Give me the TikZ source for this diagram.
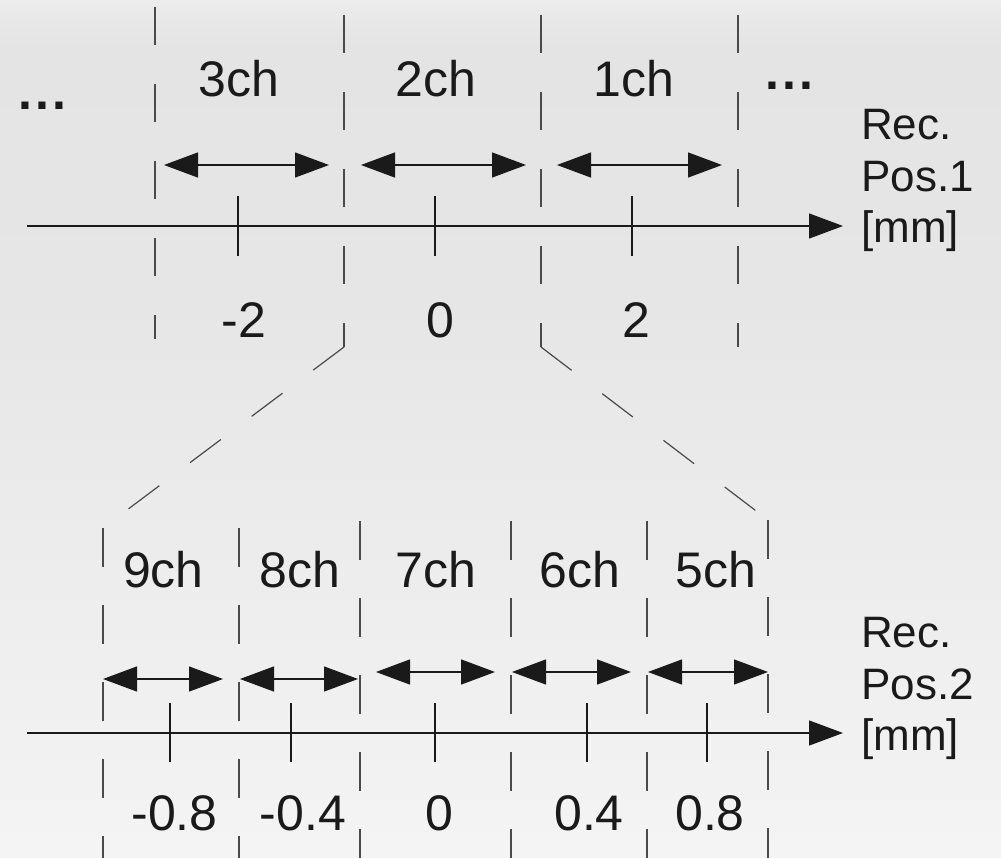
\documentclass[tikz,border=0pt]{standalone}
\usepackage{fontspec}
\setmainfont{Liberation Sans}
\usetikzlibrary{arrows.meta}
\definecolor{bgA}{HTML}{ECECEC}
\definecolor{bgB}{HTML}{E4E4E4}
\definecolor{bgC}{HTML}{E6E6E6}
\definecolor{bgD}{HTML}{F4F4F4}
\definecolor{ink}{HTML}{1A1A1A}
\definecolor{guidecol}{HTML}{4A4A4A}
\tikzset{
  chlabel/.style={font=\fontsize{50}{60}\selectfont, anchor=base, inner sep=0pt, text=ink},
  axlabel/.style={font=\fontsize{44}{51.5}\selectfont, anchor=base west, inner sep=0pt, text=ink},
  dots/.style={font=\bfseries\fontsize{50}{60}\selectfont\addfontfeature{LetterSpace=6}, anchor=base west, inner sep=0pt, text=ink},
  guide/.style={draw=guidecol, line width=1.2pt, dash pattern=on 38.5pt off 38.5pt},
  bigtip/.tip={Triangle[length=34pt,width=25pt]},
  axisline/.style={draw=ink, line width=1.3pt, -bigtip},
  span/.style={draw=ink, line width=1.3pt, bigtip-bigtip},
  tickmark/.style={draw=ink, line width=1.2pt},
}
\begin{document}
\begin{tikzpicture}[x=1pt,y=-1pt]
\useasboundingbox (0,0) rectangle (1001,858);
% background
\shade[top color=bgA, bottom color=bgB] (0,0) rectangle (1001,45);
\shade[top color=bgB, bottom color=bgC] (0,45) rectangle (1001,300);
\shade[top color=bgC, bottom color=bgD] (0,300) rectangle (1001,858);

% ---------- top scale ----------
\coordinate (g0t) at (155,7);   \coordinate (g0b) at (155,339);
\coordinate (g1t) at (344,15);  \coordinate (g1b) at (344,347);
\coordinate (g2t) at (541,15);  \coordinate (g2b) at (541,347);
\coordinate (g3t) at (738,15);  \coordinate (g3b) at (738,347);
\draw[guide] (g0t) -- (g0b);
\draw[guide] (g1t) -- (g1b);
\draw[guide] (g2t) -- (g2b);
\draw[guide] (g3t) -- (g3b);

\coordinate (ax1s) at (27,226); \coordinate (ax1e) at (843,226);
\draw[axisline] (ax1s) -- (ax1e);

\foreach \n/\x in {a/238,b/435,c/632}{
  \coordinate (t1\n u) at (\x,196); \coordinate (t1\n d) at (\x,256);
  \draw[tickmark] (t1\n u) -- (t1\n d);
}

\coordinate (s3l) at (164,165); \coordinate (s3r) at (329,165);
\coordinate (s2l) at (361,165); \coordinate (s2r) at (526,165);
\coordinate (s1l) at (557,165); \coordinate (s1r) at (722,165);
\draw[span] (s3l) -- (s3r);
\draw[span] (s2l) -- (s2r);
\draw[span] (s1l) -- (s1r);

\node[chlabel] (ch3) at (239,97) {3ch};
\node[chlabel] (ch2) at (436,97) {2ch};
\node[chlabel] (ch1) at (634,97) {1ch};
\node[dots] (dl) at (18,110) {...};
\node[dots] (dr) at (765,90) {...};

\node[chlabel] (n1a) at (244,338) {-2};
\node[chlabel] (n1b) at (440,338) {0};
\node[chlabel] (n1c) at (636,338) {2};

\node[axlabel] (rec1a) at (861,140) {Rec.};
\node[axlabel] (rec1b) at (861,192) {Pos.1};
\node[axlabel] (rec1c) at (861,243) {[mm]};

% ---------- zoom lines ----------
\coordinate (z1) at (103,528);
\coordinate (z2) at (768,520);
\draw[guide] (g1b) -- (z1);
\draw[guide] (g2b) -- (z2);

% ---------- bottom scale ----------
\coordinate (h0b) at (103,858);
\coordinate (h1t) at (239,528); \coordinate (h1b) at (239,858);
\coordinate (h2t) at (360,521); \coordinate (h2b) at (360,858);
\coordinate (h3t) at (511,521); \coordinate (h3b) at (511,858);
\coordinate (h4t) at (647,521); \coordinate (h4b) at (647,858);
\coordinate (h5b) at (768,858);
\draw[guide] (z1) -- (h0b);
\draw[guide] (h1t) -- (h1b);
\draw[guide] (h2t) -- (h2b);
\draw[guide] (h3t) -- (h3b);
\draw[guide] (h4t) -- (h4b);
\draw[guide] (z2) -- (h5b);

\coordinate (ax2s) at (27,733); \coordinate (ax2e) at (843,733);
\draw[axisline] (ax2s) -- (ax2e);

\foreach \n/\x in {a/170,b/291,c/435,d/587,e/707}{
  \coordinate (t2\n u) at (\x,703); \coordinate (t2\n d) at (\x,762);
  \draw[tickmark] (t2\n u) -- (t2\n d);
}

\coordinate (s9l) at (103,679); \coordinate (s9r) at (223,679);
\coordinate (s8l) at (240,679); \coordinate (s8r) at (358,679);
\coordinate (s7l) at (376,672); \coordinate (s7r) at (495,672);
\coordinate (s6l) at (512,672); \coordinate (s6r) at (631,672);
\coordinate (s5l) at (648,672); \coordinate (s5r) at (768,672);
\draw[span] (s9l) -- (s9r);
\draw[span] (s8l) -- (s8r);
\draw[span] (s7l) -- (s7r);
\draw[span] (s6l) -- (s6r);
\draw[span] (s5l) -- (s5r);

\node[chlabel] (ch9) at (163.5,587) {9ch};
\node[chlabel] (ch8) at (300,587) {8ch};
\node[chlabel] (ch7) at (436,587) {7ch};
\node[chlabel] (ch6) at (580,587) {6ch};
\node[chlabel] (ch5) at (716,587) {5ch};

\node[chlabel] (n2a) at (174.5,830) {-0.8};
\node[chlabel] (n2b) at (303,830) {-0.4};
\node[chlabel] (n2c) at (439,830) {0};
\node[chlabel] (n2d) at (589,830) {0.4};
\node[chlabel] (n2e) at (710,830) {0.8};

\node[axlabel] (rec2a) at (861,647) {Rec.};
\node[axlabel] (rec2b) at (861,699) {Pos.2};
\node[axlabel] (rec2c) at (861,750) {[mm]};
\end{tikzpicture}
\end{document}
